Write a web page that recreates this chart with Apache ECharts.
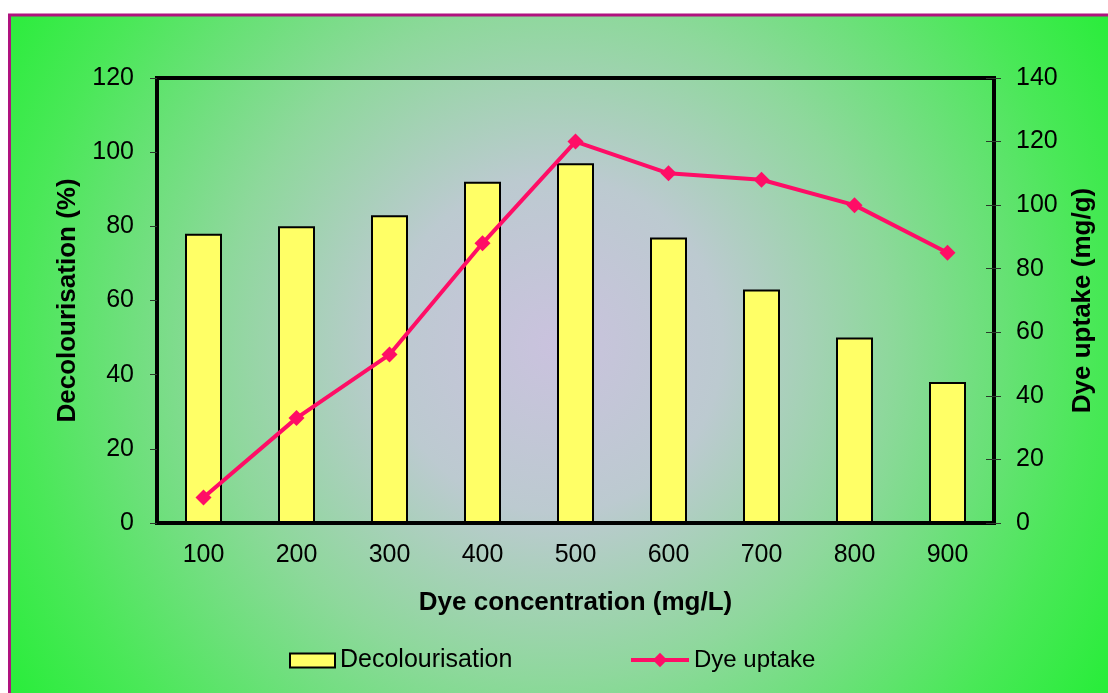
<!DOCTYPE html>
<html>
<head>
<meta charset="utf-8">
<script src="https://cdn.jsdelivr.net/npm/echarts@6/dist/echarts.min.js"></script>
<style>
  html, body { margin: 0; padding: 0; background: #ffffff; }
  #chart { width: 1108px; height: 693px; }
</style>
</head>
<body>
<div id="chart"></div>
<script>
// Dye concentration categories (mg/L)
const concentrations = ['100', '200', '300', '400', '500', '600', '700', '800', '900'];
// Decolourisation (%) per concentration
const decolourisation = [78, 80, 83, 92, 97, 77, 63, 50, 38];
// Dye uptake (mg/g) per concentration
const dyeUptake = [8, 33, 53, 88, 120, 110, 108, 100, 85];

const FONT = '"Liberation Sans", Arial, sans-serif';
const chart = echarts.init(document.getElementById('chart'), null, { renderer: 'canvas' });

chart.setOption({
  backgroundColor: '#ffffff',
  animation: false,
  textStyle: { fontFamily: FONT },
  graphic: [
    {
      type: 'rect',
      z: -10,
      silent: true,
      shape: { x: 11, y: 16, width: 1097, height: 677 },
      style: {
        fill: {
          type: 'radial', x: 555, y: 345, r: 670, global: true,
          colorStops: [
            { offset: 0, color: '#cac2de' },
            { offset: 0.25, color: '#bccad0' },
            { offset: 0.5, color: '#8ed89c' },
            { offset: 0.8, color: '#4ae858' },
            { offset: 1, color: '#22ee34' }
          ]
        }
      }
    },
    {
      type: 'line', z: -5, silent: true,
      shape: { x1: 8, y1: 15, x2: 1108, y2: 15 },
      style: { stroke: '#b0127f', lineWidth: 3 }
    },
    {
      type: 'line', z: -5, silent: true,
      shape: { x1: 9.5, y1: 14, x2: 9.5, y2: 693 },
      style: { stroke: '#b0127f', lineWidth: 3 }
    }
  ],
  grid: {
    left: 157, right: 114, top: 78, bottom: 170,
    show: true, borderColor: '#000', borderWidth: 4, backgroundColor: 'transparent'
  },
  legend: [
    {
      data: [{ name: 'Decolourisation', icon: 'rect' }],
      left: 284, top: 643,
      itemWidth: 45, itemHeight: 14,
      textStyle: { fontFamily: FONT, fontSize: 25, color: '#000' }
    },
    {
      data: [{ name: 'Dye uptake' }],
      left: 624, top: 643,
      itemWidth: 58, itemHeight: 18,
      lineStyle: { width: 4 },
      textStyle: { fontFamily: FONT, fontSize: 24, color: '#000' }
    }
  ],
  xAxis: [
    {
      type: 'category',
      data: concentrations,
      position: 'bottom',
      name: 'Dye concentration (mg/L)',
      nameLocation: 'middle',
      nameGap: 67,
      nameTextStyle: { fontFamily: FONT, fontSize: 26, fontWeight: 'bold', color: '#000' },
      axisLine: { lineStyle: { color: '#000', width: 4 } },
      axisTick: { length: 9, lineStyle: { color: '#2a3a2a', width: 1 } },
      axisLabel: { fontFamily: FONT, fontSize: 25, color: '#000', margin: 20 }
    },
    {
      type: 'category',
      data: concentrations,
      position: 'bottom',
      axisLine: { show: false },
      axisTick: { inside: true, length: 9, lineStyle: { color: '#2a3a2a', width: 1 } },
      axisLabel: { show: false }
    }
  ],
  yAxis: [
    {
      type: 'value',
      min: 0, max: 120, interval: 20,
      name: 'Decolourisation (%)',
      nameLocation: 'middle',
      nameGap: 76,
      nameTextStyle: { fontFamily: FONT, fontSize: 26, fontWeight: 'bold', color: '#000' },
      axisLine: { show: true, lineStyle: { color: '#000', width: 4 } },
      axisTick: { show: true, length: 7, lineStyle: { color: '#2a3a2a', width: 1 } },
      axisLabel: { fontFamily: FONT, fontSize: 25, color: '#000', margin: 23 },
      splitLine: { show: false }
    },
    {
      type: 'value',
      min: 0, max: 140, interval: 20,
      position: 'right',
      name: 'Dye uptake (mg/g)',
      nameLocation: 'middle',
      nameGap: 76,
      nameRotate: 90,
      nameTextStyle: { fontFamily: FONT, fontSize: 26, fontWeight: 'bold', color: '#000' },
      axisLine: { show: true, lineStyle: { color: '#000', width: 4 } },
      axisTick: { show: true, length: 7, lineStyle: { color: '#2a3a2a', width: 1 } },
      axisLabel: { fontFamily: FONT, fontSize: 25, color: '#000', margin: 22 },
      splitLine: { show: false }
    },
    {
      // inner half of the crossing ticks on the right axis
      type: 'value',
      min: 0, max: 140, interval: 20,
      position: 'right',
      axisLine: { show: false },
      axisTick: { show: true, inside: true, length: 8, lineStyle: { color: '#2a3a2a', width: 1 } },
      axisLabel: { show: false },
      splitLine: { show: false }
    }
  ],
  series: [
    {
      name: 'Decolourisation',
      type: 'bar',
      xAxisIndex: 0,
      yAxisIndex: 0,
      data: decolourisation,
      barWidth: 37,
      itemStyle: { color: '#ffff66', borderColor: '#000', borderWidth: 2 }
    },
    {
      name: 'Dye uptake',
      type: 'line',
      xAxisIndex: 0,
      yAxisIndex: 1,
      data: dyeUptake,
      symbol: 'diamond',
      symbolSize: 16,
      lineStyle: { color: '#ff0d66', width: 4 },
      itemStyle: { color: '#ff0d66' }
    }
  ]
});
</script>
</body>
</html>
